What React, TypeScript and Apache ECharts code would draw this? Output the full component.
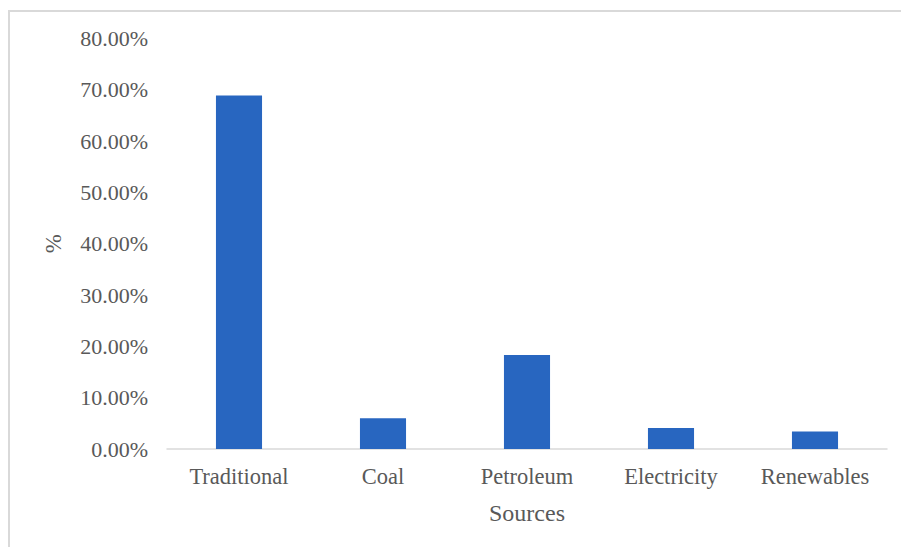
import React, { useEffect, useRef } from "react";
import * as echarts from "echarts";

const categories = ["Traditional", "Coal", "Petroleum", "Electricity", "Renewables"];
const shares = [68.9, 6.0, 18.3, 4.1, 3.4];
const yTicks = { min: 0, max: 80, interval: 10 };

const FONT = "'Liberation Serif', 'Times New Roman', serif";
const TEXT = "#595959";

export default function App() {
  const ref = useRef<HTMLDivElement>(null);
  useEffect(() => {
    if (!ref.current) return;
    const chart = echarts.init(ref.current, undefined, { renderer: "svg" });
    chart.setOption({
      animation: false,
      backgroundColor: "#ffffff",
      graphic: [
        {
          type: "rect",
          shape: { x: 9, y: 11, width: 920, height: 560 },
          style: { fill: "none", stroke: "#D9D9D9", lineWidth: 2 },
          silent: true,
        },
      ],
      grid: { left: 167, right: 14, top: 38.5, bottom: 98, containLabel: false },
      xAxis: {
        type: "category",
        data: categories,
        name: "Sources",
        nameLocation: "middle",
        nameGap: 52,
        nameTextStyle: { fontFamily: FONT, fontSize: 24, color: TEXT },
        axisLine: { show: true, lineStyle: { color: "#D9D9D9", width: 1.5 } },
        axisTick: { show: false },
        axisLabel: { fontFamily: FONT, fontSize: 22.5, color: TEXT, margin: 16 },
      },
      yAxis: {
        type: "value",
        min: yTicks.min,
        max: yTicks.max,
        interval: yTicks.interval,
        name: "%",
        nameLocation: "middle",
        nameGap: 102,
        nameRotate: 90,
        nameTextStyle: { fontFamily: FONT, fontSize: 23, color: TEXT },
        axisLine: { show: false },
        axisTick: { show: false },
        splitLine: { show: false },
        axisLabel: {
          fontFamily: FONT,
          fontSize: 22,
          color: TEXT,
          margin: 19,
          formatter: (v: number) => v.toFixed(2) + "%",
        },
      },
      series: [
        {
          type: "bar",
          data: shares,
          barCategoryGap: "68%",
          itemStyle: { color: "#2866C0" },
        },
      ],
    });
    return () => chart.dispose();
  }, []);
  return (
    <div
      ref={ref}
      style={{ position: "fixed", left: 0, top: 0, width: 901, height: 547, background: "#fff" }}
    />
  );
}
